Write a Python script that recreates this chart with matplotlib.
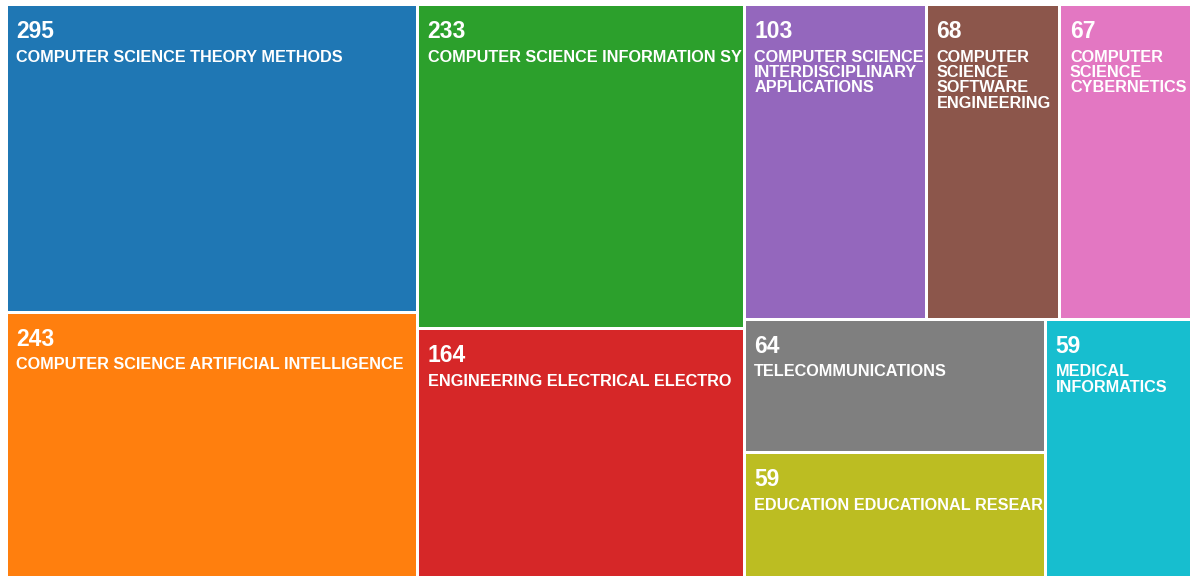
import matplotlib
matplotlib.use("Agg")
import matplotlib.pyplot as plt
from matplotlib.patches import Rectangle
from matplotlib.font_manager import FontProperties
from matplotlib.transforms import Bbox, TransformedBbox

# Datos del treemap
categories = [
    "COMPUTER SCIENCE THEORY METHODS",
    "COMPUTER SCIENCE ARTIFICIAL INTELLIGENCE",
    "COMPUTER SCIENCE INFORMATION SYSTEMS",
    "ENGINEERING ELECTRICAL ELECTRONIC",
    "COMPUTER SCIENCE INTERDISCIPLINARY APPLICATIONS",
    "COMPUTER SCIENCE SOFTWARE ENGINEERING",
    "COMPUTER SCIENCE CYBERNETICS",
    "TELECOMMUNICATIONS",
    "EDUCATION EDUCATIONAL RESEARCH",
    "MEDICAL INFORMATICS",
]
counts = [295, 243, 233, 164, 103, 68, 67, 64, 59, 59]
colors = ['#1f77b4', '#ff7f0e', '#2ca02c', '#d62728', '#9467bd',
          '#8c564b', '#e377c2', '#7f7f7f', '#bcbd22', '#17becf']

W, H = 1190, 576
phi = (1 + 5 ** 0.5) / 2


# Treemap "squarify" (mismo criterio que d3, razón áurea)
def squarify(values, x0, y0, x1, y1, ratio=phi):
    rects = []
    n = len(values)
    total = float(sum(values))
    i0 = 0
    while i0 < n:
        dx, dy = x1 - x0, y1 - y0
        s = values[i0]
        i1 = i0 + 1
        vmin = vmax = s
        alpha = max(dy / dx, dx / dy) / (total * ratio)
        beta = s * s * alpha
        min_ratio = max(vmax / beta, beta / vmin)
        while i1 < n:
            v = values[i1]
            s2 = s + v
            beta = s2 * s2 * alpha
            new_ratio = max(max(vmax, v) / beta, beta / min(vmin, v))
            if new_ratio > min_ratio:
                break
            s = s2
            vmin, vmax = min(vmin, v), max(vmax, v)
            min_ratio = new_ratio
            i1 += 1
        row = values[i0:i1]
        if dx < dy:
            h = dy * s / total
            xx = x0
            for v in row:
                w = dx * v / s
                rects.append((xx, y0, w, h))
                xx += w
            y0 += h
        else:
            w = dx * s / total
            yy = y0
            for v in row:
                h = dy * v / s
                rects.append((x0, yy, w, h))
                yy += h
            x0 += w
        total -= s
        i0 = i1
    return rects


# tamaño de cada celda ~ cuenta^0.75
weights = [c ** 0.75 for c in counts]
rects = squarify(weights, 6.5, 4.5, 1192.0, 578.0)

fig = plt.figure(figsize=(W / 100, H / 100), dpi=100)
ax = fig.add_axes([0, 0, 1, 1])
ax.set_xlim(0, W)
ax.set_ylim(H, 0)
ax.axis('off')

renderer = fig.canvas.get_renderer()
fp_name = FontProperties(family='Liberation Sans', weight='bold', size=11.7)


def text_w(s):
    w, _, _ = renderer.get_text_width_height_descent(s, fp_name, ismath=False)
    return w


def wrap(label, maxw):
    lines = []
    cur = ""
    for word in label.split():
        test = word if not cur else cur + " " + word
        if cur and text_w(test) > maxw:
            lines.append(cur)
            cur = word
        else:
            cur = test
    lines.append(cur)
    return lines


def cut(line, maxw):
    # recorta el texto que no cabe en la celda (como en el original)
    while len(line) > 1 and text_w(line) > maxw:
        line = line[:-1]
    return line


for (x, y, w, h), cat, n, col in zip(rects, categories, counts, colors):
    rx, ry, rw, rh = x + 1.5, y + 1.5, w - 3, h - 3
    patch = Rectangle((rx, ry), rw, rh, facecolor=col, edgecolor='none')
    ax.add_patch(patch)
    clip = TransformedBbox(Bbox.from_bounds(rx, ry, rw, rh), ax.transData)
    tx = rx + 8.5
    t = ax.text(tx, ry + 32, str(n), color='white', fontsize=16.5, fontweight='bold',
                family='Liberation Sans', va='baseline', ha='left')
    t.set_clip_box(clip)
    t.set_clip_on(True)
    if w < 250:
        lines = wrap(cat, rw - 8)
    else:
        lines = [cat]
    for k, line in enumerate(lines):
        t = ax.text(tx, ry + 55.5 + 15.5 * k, cut(line, rw - 9), color='white',
                    fontproperties=fp_name, va='baseline', ha='left')
        t.set_clip_box(clip)
        t.set_clip_on(True)

fig.savefig('out.png', dpi=100, facecolor='white')
